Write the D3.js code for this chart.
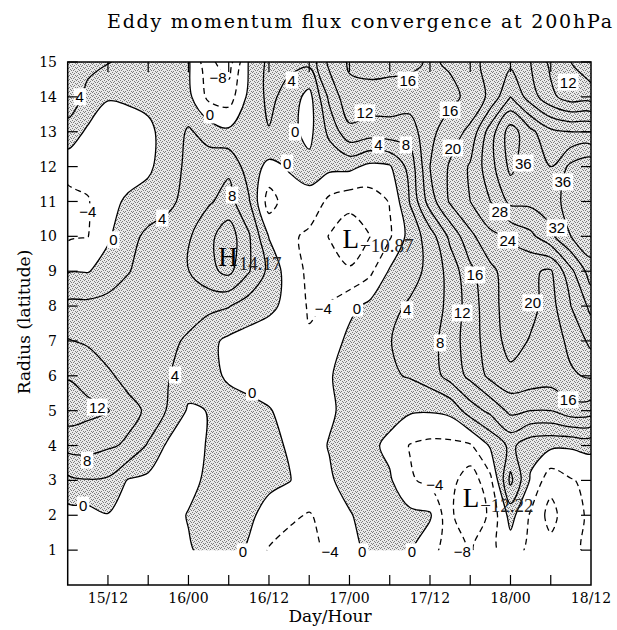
<!DOCTYPE html>
<html>
<head>
<meta charset="utf-8">
<script src="https://cdn.jsdelivr.net/npm/d3@7/dist/d3.min.js"></script>
<style>
  body { margin: 0; background: #fff; }
  svg { display: block; }
</style>
</head>
<body>
<svg id="chart" width="617" height="630"></svg>
<script>
// Field sampling: every 3 hours from 15/06 (hour 0) to 18/12 (hour 78)
const hours = d3.range(0, 79, 3);
// Radius rows, degrees latitude
const radii = d3.range(1, 16);

// Eddy momentum flux convergence at 200 hPa, one array per radius, west to east in time
const flux_r01 = [-2, -2, -2, -2.5, -2.5, -1.5, -0.5, 1.5, 1.5, -0.5, -4.3, -5, -4.8, -3.5, -1.5, 1, 2, 0.3, -2.5, -6, -8.5, -5, -2, -5, -6.5, -5, -3];
const flux_r02 = [-1.5, -1.5, -0.2, -1.5, -2, -2, 0.3, 1.5, 1.5, 0.8, -1.5, -3.5, -4.2, -3, -0.3, 1.5, 2, 1, 0.5, -7, -12.22, -7, 1.5, -4.5, -9.5, -5, -3.5];
const flux_r03 = [3, 3.8, 3.5, -0.3, -1, -2, -1.5, 1, 1.5, 1.5, 1, 0.2, -2, -0.5, 1.5, 2, 0.5, -3.5, -5, -6.5, -10.5, -5, 9, -0.5, -6.5, -4.3, -3];
const flux_r04 = [9.4, 9.5, 8.5, 7.5, 3.5, -0.8, -1.5, 0.3, 1.5, 1.2, 0.8, -0.3, -1.5, 0.2, 1.5, 1, -1, -4.2, -5, -5, -4.5, 0.5, 5, 1.5, 0.8, 0.5, 1];
const flux_r05 = [14, 13, 12.2, 9, 7.5, 3.5, -0.5, 0.1, 1.5, 0.8, 0.2, -1, -1.5, -0.5, 1, 2, 1.5, 0.5, 0.3, 1, 6, 9, 13, 12, 12, 14.5, 14];
const flux_r06 = [11.7, 10.5, 8.5, 7, 5.5, 4.2, 2, 1, -0.5, -1, -1.5, -2.5, -2.5, -0.3, 1.5, 2.5, 3.5, 4.3, 6, 9.5, 13, 17, 19, 18.5, 18, 19.5, 20.5];
const flux_r07 = [8.2, 7.5, 6.5, 6, 5.5, 4.8, 3.5, 1, -0.8, -1.5, -2, -3, -3.5, -2, 1, 2, 3.9, 5, 6.5, 10, 14, 18, 21.5, 19.7, 18, 21, 25];
const flux_r08 = [5, 5, 5.5, 6, 6.5, 6, 5.5, 5, 4.2, 2, 0.8, -1, -4.5, -3.7, -1, 1, 3, 4.5, 6, 9, 14, 18.5, 22, 21, 18.5, 24, 29];
const flux_r09 = [-0.3, -0.2, 1.5, 3.8, 5.5, 6.5, 7.9, 11, 13, 8.3, 3, -2, -4.8, -6, -7.5, -5, 0.5, 2.5, 5, 9.5, 15, 19, 22, 20.5, 19.5, 27, 34];
const flux_r10 = [-4.6, -4.1, -0.5, 2.5, 5, 6, 7.5, 11, 14.17, 8.5, -0.2, -3, -5, -8.2, -10.87, -8.1, -4.5, 1.5, 6, 13, 19, 23, 24.5, 27, 31, 36, 39];
const flux_r11 = [-5.5, -4.3, -1, 0.5, 1.5, 3, 5.5, 7.5, 9.5, 4.5, -6, -1.5, -1, -5, -6.5, -6, -3.8, 4.2, 14, 20.5, 24, 28, 33, 33, 34, 38, 39];
const flux_r12 = [-2.4, -2.5, -2, -1.5, -0.7, 2, 5, 6, 7.2, 2, -1, 0.3, 1.2, 1, 1, -1, -0.5, 5.5, 16, 20.5, 24.5, 30.5, 37, 33, 32, 37, 39];
const flux_r13 = [2.4, -0.7, -1.5, -1.5, -0.8, 1.5, 4.5, 2.5, 0.8, 2, 3.8, 1.2, -1.2, 5, 11, 10, 10.5, 10, 15, 18, 21, 30, 38, 33, 29, 28, 28];
const flux_r14 = [6.5, 3, 0.2, 0.5, 1, 2, 1, -5, -6, 1, 5, 2.5, -1.5, 9, 15, 14.5, 14, 14, 14.5, 15, 17, 21, 28, 22, 17, 14, 14];
const flux_r15 = [7.5, 5, 4.2, 3, 2.5, 1.5, 0.5, -7, -10, 0.3, 5, 5, 5, 13, 16.5, 17.5, 17.5, 17, 15.5, 16.5, 19, 21, 23, 20, 15, 12, 9];

const contourLevels = d3.range(-8, 37, 4);

// Axis ticks and labels
const timeTickHours = d3.range(6, 78, 6);
const timeLabelHours = [6, 18, 30, 42, 54, 66, 78];
const timeLabels = ["15/12", "16/00", "16/12", "17/00", "17/12", "18/00", "18/12"];
const radiusTicks = d3.range(1, 16);

// Inline contour labels: hour, radius, contour level
const labelHours  = [1.8, 22.4, 21.2, 33.4, 33.9, 50.7, 44.3, 46.3, 50.4, 32.7, 24.5, 14.1, 3.0, 6.8, 57.0, 57.4, 67.9, 74.6, 73.8, 64.4, 72.9, 65.6, 60.7, 69.3, 58.8, 55.5, 74.6, 50.6, 38.1, 43.1, 16.0, 4.4, 2.9, 2.3, 27.5, 26.1, 39.1, 43.9, 51.3, 54.7, 58.8];
const labelRadii  = [14.0, 14.54, 13.48, 14.48, 12.99, 14.48, 13.54, 12.62, 12.62, 12.1, 11.18, 10.52, 10.7, 9.9, 13.62, 12.53, 12.1, 14.42, 11.56, 10.7, 10.24, 9.89, 8.89, 8.09, 7.8, 6.94, 5.31, 7.89, 7.94, 7.94, 6.02, 5.1, 3.58, 2.29, 5.53, 0.95, 0.95, 0.95, 0.95, 2.87, 0.95];
const labelLevels = [4, -8, 0, 4, 0, 16, 12, 4, 8, 0, 8, 4, -4, 0, 16, 20, 36, 12, 36, 28, 32, 24, 16, 20, 12, 8, 16, 4, -4, 0, 4, 12, 8, 0, 0, 0, -4, 0, 0, -4, -8];

// Extrema markers
const extremaKind   = ["H", "L", "L"];
const extremaHours  = [23.9, 42.2, 60.1];
const extremaRadii  = [9.43, 9.95, 2.5];
const extremaValues = [14.17, -10.87, -12.22];

const svg = d3.select("#chart");
const plot = { left: 67.7, right: 591, top: 62, bottom: 585 };
const x = d3.scaleLinear().domain([0, 78]).range([plot.left, plot.right]);
const y = d3.scaleLinear().domain([0, 15]).range([plot.bottom, plot.top]);

const serif = "'DejaVu Serif', 'Liberation Serif', serif";
const sans = "'Liberation Sans', Arial, sans-serif";

// Stippled shading for positive convergence
const defs = svg.append("defs");
const pat = defs.append("pattern").attr("id", "stipple")
  .attr("patternUnits", "userSpaceOnUse").attr("width", 8).attr("height", 8);
pat.append("rect").attr("width", 8).attr("height", 8).attr("fill", "#e9e9e9");
[[0, 0], [4, 0], [2, 1], [6, 1], [1, 2], [7, 2], [3, 3], [5, 3],
 [0, 4], [4, 4], [2, 5], [6, 5], [1, 6], [7, 6], [3, 7], [5, 7]].forEach(([px, py]) =>
  pat.append("rect").attr("x", px).attr("y", py).attr("width", 1).attr("height", 1).attr("fill", "#7c7c7c"));

defs.append("clipPath").attr("id", "dataClip").append("rect")
  .attr("x", x(0)).attr("y", y(15))
  .attr("width", x(78) - x(0)).attr("height", y(1) - y(15));

// Contour geometry from the sampled grid (row 0 = radius 1)
const rows = [flux_r01, flux_r02, flux_r03, flux_r04, flux_r05, flux_r06, flux_r07, flux_r08,
              flux_r09, flux_r10, flux_r11, flux_r12, flux_r13, flux_r14, flux_r15];
const nx = hours.length, ny = radii.length;
const grid = rows.flat();
const step = hours[1] - hours[0];
const contourGen = d3.contours().size([nx, ny]);

// Grid space: sample i sits at coordinate i + 0.5
const toPx = ([gx, gy]) => [x(hours[0] + (gx - 0.5) * step), y(radii[0] + (gy - 0.5))];
const ringLine = d3.line().curve(d3.curveCatmullRomClosed.alpha(0.5));
const geomPath = geom => geom.coordinates
  .map(poly => poly.map(ring => ringLine(ring.slice(0, -1).map(toPx))).join(""))
  .join("");

const field = svg.append("g").attr("clip-path", "url(#dataClip)");

field.append("path")
  .attr("d", geomPath(contourGen.contour(grid, 0)))
  .attr("fill", "url(#stipple)")
  .attr("fill-rule", "evenodd")
  .attr("stroke", "none");

field.selectAll("path.iso")
  .data(contourGen.thresholds(contourLevels)(grid))
  .join("path")
  .attr("class", "iso")
  .attr("d", geomPath)
  .attr("fill", "none")
  .attr("stroke", "#000")
  .attr("stroke-width", 1.3)
  .attr("stroke-linejoin", "round")
  .attr("stroke-dasharray", d => d.value < 0 ? "6,4" : null);

// Contour labels on white boxes
const fmtLevel = v => v < 0 ? "\u2212" + Math.abs(v) : String(v);
const lblG = svg.append("g");
labelLevels.forEach((lv, i) => {
  const g = lblG.append("g")
    .attr("transform", `translate(${x(labelHours[i])},${y(labelRadii[i])})`);
  const t = g.append("text")
    .attr("text-anchor", "middle").attr("dy", "0.36em")
    .attr("font-family", sans).attr("font-size", 15)
    .attr("fill", "#000")
    .text(fmtLevel(lv));
  const b = t.node().getBBox();
  g.insert("rect", "text")
    .attr("x", b.x - 2).attr("y", b.y)
    .attr("width", b.width + 4).attr("height", b.height)
    .attr("fill", "#fff");
});

// H / L markers with their extreme values
const fmtExt = v => (v < 0 ? "\u2212" : "") + Math.abs(v).toFixed(2);
extremaKind.forEach((k, i) => {
  const cx = x(extremaHours[i]), cy = y(extremaRadii[i]);
  const letter = svg.append("text")
    .attr("x", cx).attr("y", cy).attr("dy", "0.35em")
    .attr("text-anchor", "middle")
    .attr("font-family", "'Liberation Serif', 'Times New Roman', serif")
    .attr("font-size", 27)
    .text(k);
  const lb = letter.node().getBBox();
  svg.append("text")
    .attr("x", lb.x + lb.width + 1).attr("y", cy + 14)
    .attr("font-family", "'Liberation Serif', 'Times New Roman', serif")
    .attr("font-size", 19)
    .attr("fill", "#222")
    .text(fmtExt(extremaValues[i]));
});

// Frame, ticks and tick labels
const axisG = svg.append("g").attr("stroke", "#000");
axisG.append("rect")
  .attr("x", plot.left).attr("y", plot.top)
  .attr("width", plot.right - plot.left).attr("height", plot.bottom - plot.top)
  .attr("fill", "none").attr("stroke-width", 1.5);
const tickLen = 10;
timeTickHours.forEach(h => {
  axisG.append("line").attr("x1", x(h)).attr("x2", x(h))
    .attr("y1", plot.bottom).attr("y2", plot.bottom - tickLen).attr("stroke-width", 1.2);
  axisG.append("line").attr("x1", x(h)).attr("x2", x(h))
    .attr("y1", plot.top).attr("y2", plot.top + tickLen).attr("stroke-width", 1.2);
});
radiusTicks.forEach(r => {
  axisG.append("line").attr("x1", plot.left).attr("x2", plot.left + tickLen)
    .attr("y1", y(r)).attr("y2", y(r)).attr("stroke-width", 1.2);
  axisG.append("line").attr("x1", plot.right).attr("x2", plot.right - tickLen)
    .attr("y1", y(r)).attr("y2", y(r)).attr("stroke-width", 1.2);
});

svg.append("g").selectAll("text")
  .data(timeLabelHours)
  .join("text")
  .attr("x", d => x(d)).attr("y", 603)
  .attr("text-anchor", "middle")
  .attr("font-family", serif).attr("font-size", 14)
  .text((d, i) => timeLabels[i]);

svg.append("g").selectAll("text")
  .data(radiusTicks)
  .join("text")
  .attr("x", 57).attr("y", d => y(d)).attr("dy", "0.36em")
  .attr("text-anchor", "end")
  .attr("font-family", serif).attr("font-size", 14)
  .text(d => d);

// Titles
svg.append("text")
  .attr("x", 107).attr("y", 28)
  .attr("font-family", serif).attr("font-size", 19)
  .attr("textLength", 505).attr("lengthAdjust", "spacing")
  .text("Eddy momentum flux convergence at 200hPa");

svg.append("text")
  .attr("x", 330).attr("y", 622)
  .attr("text-anchor", "middle")
  .attr("font-family", serif).attr("font-size", 17)
  .text("Day/Hour");

svg.append("text")
  .attr("transform", "translate(30,322) rotate(-90)")
  .attr("text-anchor", "middle")
  .attr("font-family", serif).attr("font-size", 17)
  .text("Radius (latitude)");
</script>
</body>
</html>
